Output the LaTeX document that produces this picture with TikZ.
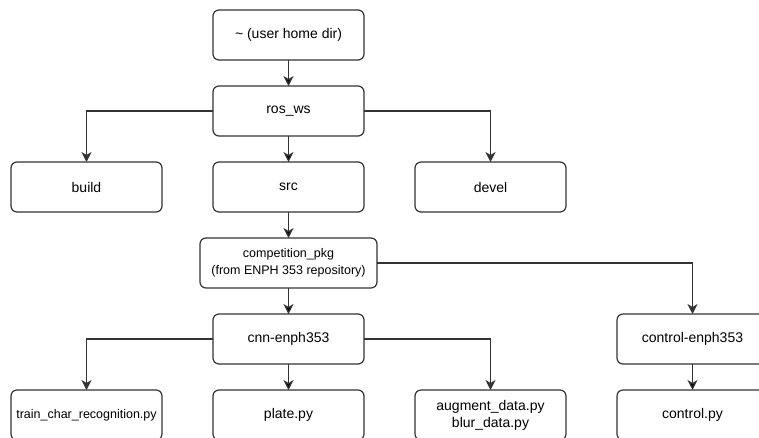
\documentclass[tikz,border=0pt]{standalone}
\usepackage{fontspec}
\setmainfont{Liberation Sans}
\usetikzlibrary{positioning, arrows.meta}
\definecolor{linegray}{HTML}{333333}

\begin{document}
\begin{tikzpicture}[x=1pt, y=1pt, >={Stealth[length=10pt, width=10pt, inset=3pt]}, node distance=26pt and 51pt, line width=1.2pt,
    folder/.style={draw=linegray, fill=white, rounded corners=6pt, minimum width=151pt, minimum height=50pt, inner sep=0pt, outer sep=0pt, align=center, font=\fontsize{14}{17}\selectfont},
    small/.style={font=\fontsize{12.5}{17.5}\selectfont},
    link/.style={->, draw=linegray}]
    \useasboundingbox (0,0) rectangle (759,-437);

    \node[folder] (home) at (288.5,-35) {\textasciitilde{} (user home dir)};
    \node[folder] (ros) [below=of home] {ros\_ws};
    \node[folder] (src) [below=of ros] {src};
    \node[folder] (build) [left=of src] {build};
    \node[folder] (devel) [right=of src] {devel};
    \node[folder, small, minimum width=177pt] (comp) [below=of src] {competition\_pkg\\(from ENPH 353 repository)};
    \node[folder] (cnn) [below=of comp] {cnn-enph353};
    \node[folder] (plate) [below=of cnn] {plate.py};
    \node[folder, small] (train) [left=of plate] {train\_char\_recognition.py};
    \node[folder] (augment) [right=of plate] {augment\_data.py\\blur\_data.py};
    \node[folder] (ctrlpy) [right=of augment] {control.py};
    \node[folder] (ctrl) [above=of ctrlpy] {control-enph353};

    \path[link]
    (home) edge (ros)
    (ros) edge (src)
    (src) edge (comp)
    (comp) edge (cnn)
    (cnn) edge (plate)
    (ctrl) edge (ctrlpy);
    \draw[link] (ros) -| (build);
    \draw[link] (ros) -| (devel);
    \draw[link] (cnn) -| (train);
    \draw[link] (cnn) -| (augment);
    \draw[link] (comp) -| (ctrl);
\end{tikzpicture}
\end{document}
